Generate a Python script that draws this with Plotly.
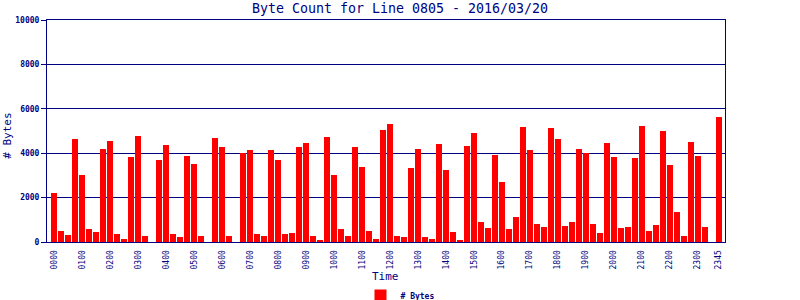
import plotly.graph_objects as go

times = [f"{h:02d}{m:02d}" for h in range(24) for m in (0, 15, 30, 45)]
byte_counts = [
    2220, 510, 330, 4650, 3030, 600, 460, 4200, 4560, 370, 150, 3840,
    4780, 280, 0, 3700, 4380, 370, 240, 3880, 3520, 280, 0, 4690,
    4290, 280, 0, 4000, 4150, 370, 280, 4150, 3700, 370, 420, 4290,
    4470, 280, 100, 4740, 3030, 600, 280, 4290, 3390, 510, 150, 5050,
    5320, 280, 240, 3340, 4200, 240, 150, 4420, 3250, 460, 100, 4330,
    4920, 910, 640, 3930, 2710, 600, 1140, 5190, 4150, 820, 690, 5140,
    4650, 730, 910, 4200, 4000, 820, 420, 4470, 3840, 640, 690, 3790,
    5230, 510, 780, 5010, 3480, 1360, 280, 4510, 3880, 690, 0, 5640,
]
tick_labels = [f"{h:02d}00" for h in range(24)] + ["2345"]
y_ticks = [0, 2000, 4000, 6000, 8000, 10000]
y_tick_text = ["0", "2000", "4000", "6000", "8000", "10000"]

NAVY = "#000080"
MONO = "DejaVu Sans Mono"

fig = go.Figure()
fig.add_trace(go.Bar(
    x=times, y=byte_counts, name="# Bytes",
    marker=dict(color="#FF0000", line=dict(width=0)),
    width=0.86,
))

fig.update_layout(
    width=800, height=300,
    margin=dict(l=47, r=75, t=20, b=58, autoexpand=False),
    paper_bgcolor="white", plot_bgcolor="white",
    title=dict(text="Byte Count for Line 0805 - 2016/03/20",
               font=dict(family=MONO, size=13.3, color=NAVY),
               x=0.5, xref="container", xanchor="center",
               y=0.972, yref="container", yanchor="middle"),
    showlegend=True,
    legend=dict(orientation="h", x=0.5, xref="container", xanchor="center",
                y=0.015, yref="container", yanchor="middle",
                font=dict(family=MONO, size=8, color=NAVY, weight="bold"),
                itemwidth=30, bgcolor="rgba(0,0,0,0)"),
    bargap=0,
)
fig.update_xaxes(
    type="category", range=[-1.05, 95.9],
    tickvals=tick_labels, ticktext=tick_labels, tickangle=-90,
    tickfont=dict(family=MONO, size=8, color=NAVY),
    ticks="", ticklabelstandoff=4,
    showgrid=False, showline=True, linecolor=NAVY, linewidth=1, mirror=True,
)
fig.update_yaxes(
    range=[0, 10000], tickvals=y_ticks, ticktext=y_tick_text,
    tickfont=dict(family=MONO, size=8, color=NAVY, weight="bold"),
    ticks="outside", ticklen=5, tickcolor=NAVY,
    showgrid=True, gridcolor=NAVY, gridwidth=1,
    showline=True, linecolor=NAVY, linewidth=1, mirror=True, zeroline=False,
)
fig.add_annotation(text="Time", xref="paper", yref="paper",
                   x=(385 - 47) / 678, y=(242.3 - 277) / 222.3,
                   showarrow=False, font=dict(family=MONO, size=11, color=NAVY),
                   xanchor="center", yanchor="middle")
fig.add_annotation(text="# Bytes", xref="paper", yref="paper",
                   x=(8 - 47) / 678, y=(242.3 - 136) / 222.3, textangle=-90,
                   showarrow=False, font=dict(family=MONO, size=11, color=NAVY),
                   xanchor="center", yanchor="middle")

fig.write_html("out.html")
